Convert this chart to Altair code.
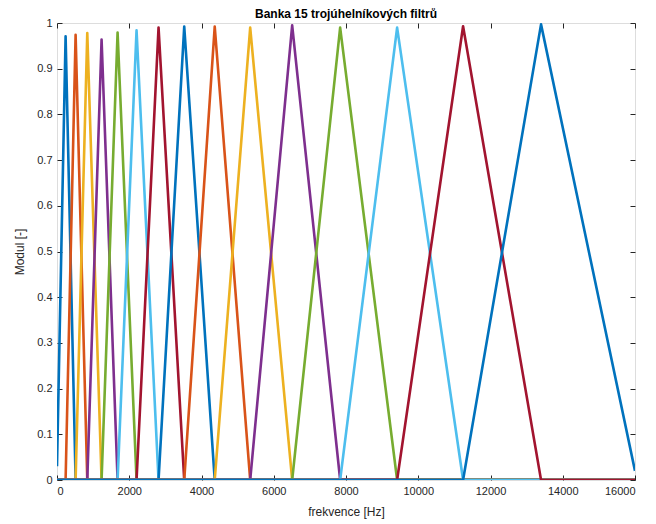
import altair as alt
import pandas as pd

# Filter centre frequencies (Hz) and peak values
centers = [238, 515, 838, 1234, 1677, 2202, 2811, 3522, 4366, 5348, 6510, 7838, 9415, 11241, 13399]
peaks = [0.971, 0.974, 0.978, 0.964, 0.979, 0.984, 0.990, 0.992, 0.992, 0.990, 0.995, 0.990, 0.990, 0.993, 0.997]
first_start_value = 0.03   # value of filter 1 at 0 Hz
last_end_value = 0.02      # value of filter 15 at 16000 Hz
f_min, f_max = 0, 16000

x_ticks = [0, 2000, 4000, 6000, 8000, 10000, 12000, 14000, 16000]
y_ticks = [0, 0.1, 0.2, 0.3, 0.4, 0.5, 0.6, 0.7, 0.8, 0.9, 1]

palette = ["#0072BD", "#D95319", "#EDB120", "#7E2F8E", "#77AC30", "#4DBEEE", "#A2142F"]

rows = []
n = len(centers)
names = []
for k in range(n):
    name = f"F{k+1:02d}"
    names.append(name)
    if k == 0:
        pts = [(f_min, first_start_value), (centers[0], peaks[0]), (centers[1], 0), (f_max, 0)]
    elif k == n - 1:
        pts = [(f_min, 0), (centers[k-1], 0), (centers[k], peaks[k]), (f_max, last_end_value)]
    else:
        pts = [(f_min, 0), (centers[k-1], 0), (centers[k], peaks[k]), (centers[k+1], 0), (f_max, 0)]
    for i, (f, v) in enumerate(pts):
        rows.append({"filtr": name, "f": f, "H": v, "i": i})

df = pd.DataFrame(rows)
colors = [palette[k % len(palette)] for k in range(n)]

font = "Liberation Sans"
txt = "#262626"

xscale = alt.Scale(domain=[f_min, f_max], nice=False, zero=False)
yscale = alt.Scale(domain=[0, 1], nice=False)

lines = alt.Chart(df).mark_line(strokeWidth=2.6, clip=True, strokeJoin="round").encode(
    x=alt.X("f:Q", scale=xscale,
            axis=alt.Axis(values=x_ticks, format="d", title="frekvence [Hz]", orient="bottom",
                          offset=-5, tickSize=5, domain=False, grid=False,
                          labelPadding=5, labelFontSize=11, labelFont=font, labelColor=txt,
                          tickColor=txt, titleFont=font, titleFontSize=12, titleFontWeight="normal",
                          titleColor=txt, titlePadding=10)),
    y=alt.Y("H:Q", scale=yscale,
            axis=alt.Axis(values=y_ticks, format="~g", title="Modul [-]", orient="left",
                          offset=-5, tickSize=5, domain=False, grid=False,
                          labelPadding=5, labelFontSize=11, labelFont=font, labelColor=txt,
                          tickColor=txt, titleFont=font, titleFontSize=12, titleFontWeight="normal",
                          titleColor=txt, titlePadding=10)),
    color=alt.Color("filtr:N", scale=alt.Scale(domain=names, range=colors), legend=None),
    order=alt.Order("i:Q"),
)

# second (invisible) layer only for the inward ticks on top and right
frame = alt.Chart(df).mark_point(opacity=0).encode(
    x=alt.X("f:Q", scale=xscale,
            axis=alt.Axis(values=x_ticks, orient="top", offset=-5, tickSize=5, domain=False,
                          labels=False, grid=False, title=None, tickColor=txt)),
    y=alt.Y("H:Q", scale=yscale,
            axis=alt.Axis(values=y_ticks, orient="right", offset=-5, tickSize=5, domain=False,
                          labels=False, grid=False, title=None, tickColor=txt)),
)

chart = alt.layer(frame, lines).resolve_axis(x="independent", y="independent").properties(
    width=578,
    height=457,
    padding={"left": 49, "top": 15, "right": 13, "bottom": 40},
    autosize=alt.AutoSizeParams(type="none"),
    title=alt.TitleParams("Banka 15 trojúhelníkových filtrů", font=font, fontSize=12,
                          fontWeight="bold", color="#000000", offset=4, dy=8, anchor="middle"),
).configure_view(stroke="#262626", strokeWidth=1).configure(background="white")

chart.save("out.html", embed_options={"renderer": "svg", "actions": False})
